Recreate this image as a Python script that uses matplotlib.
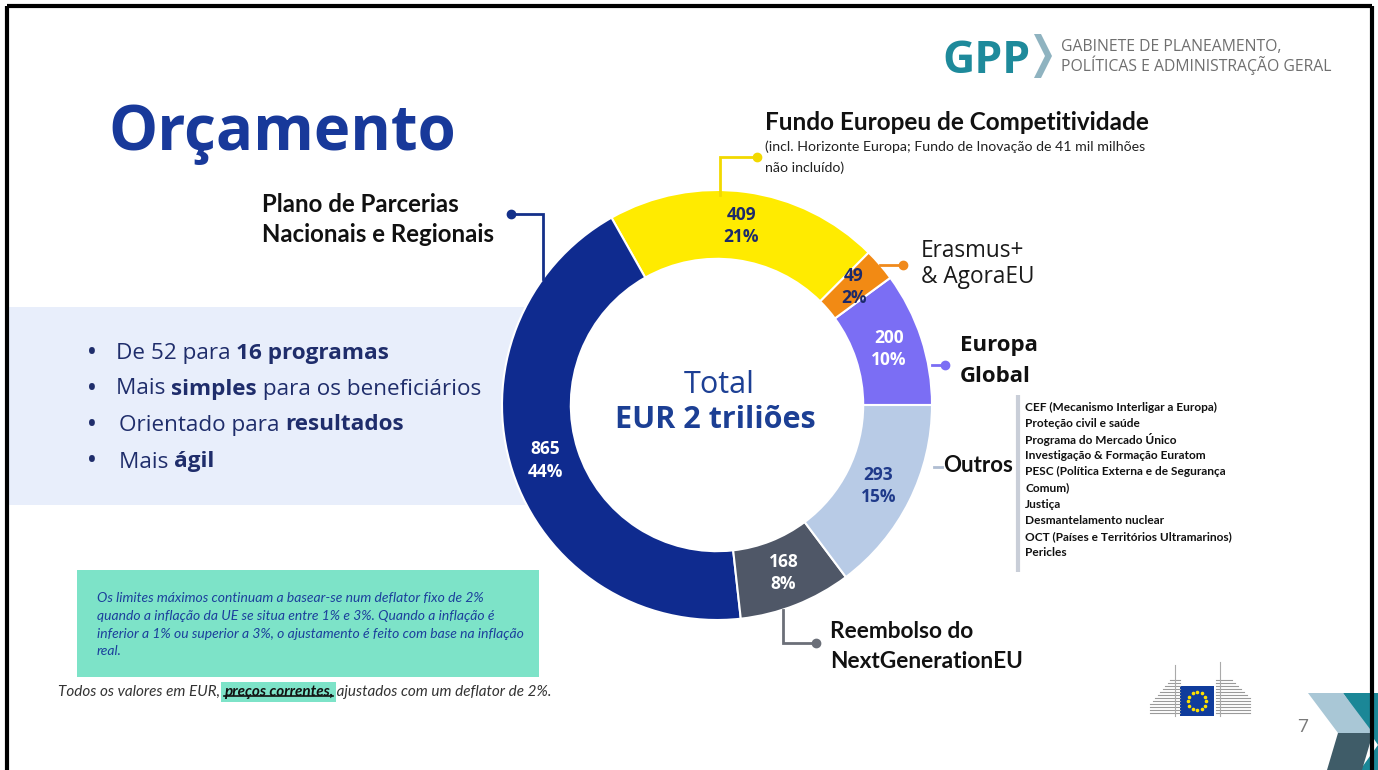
import matplotlib
matplotlib.use("Agg")
import matplotlib.pyplot as plt
from matplotlib.patches import Rectangle, Polygon
from matplotlib.lines import Line2D
from matplotlib.transforms import IdentityTransform
import numpy as np

W, H = 1378, 770

# ---------------- data ----------------
categories = ["Europa Global", "Erasmus+ & AgoraEU", "Fundo Europeu de Competitividade",
              "Plano de Parcerias Nacionais e Regionais", "Reembolso do NextGenerationEU", "Outros"]
values = [200, 49, 409, 865, 168, 293]
slice_colors = ["#7b6ef4", "#f28a14", "#ffeb00", "#0f2b8f", "#4f5767", "#b8cbe6"]
label_colors = ["white", "#1c2a6a", "#1c2a6a", "white", "white", "#1f3a8a"]

bullets = [
    [("De 52 para ", "normal"), ("16 programas", "bold")],
    [("Mais ", "normal"), ("simples", "bold"), (" para os beneficiários", "normal")],
    [("Orientado para ", "normal"), ("resultados", "bold")],
    [("Mais ", "normal"), ("ágil", "bold")],
]
outros_items = [
    "CEF (Mecanismo Interligar a Europa)",
    "Proteção civil e saúde",
    "Programa do Mercado Único",
    "Investigação & Formação Euratom",
    "PESC (Política Externa e de Segurança",
    "Comum)",
    "Justiça",
    "Desmantelamento nuclear",
    "OCT (Países e Territórios Ultramarinos)",
    "Pericles",
]
note_lines = [
    "Os limites máximos continuam a basear-se num deflator fixo de 2%",
    "quando a inflação da UE se situa entre 1% e 3%. Quando a inflação é",
    "inferior a 1% ou superior a 3%, o ajustamento é feito com base na inflação",
    "real.",
]
total = sum(values)

# ---------------- figure ----------------
fig = plt.figure(figsize=(W / 100, H / 100), dpi=100)
fig.patch.set_facecolor("white")

bg = fig.add_axes([0, 0, 1, 1])
bg.set_xlim(0, W)
bg.set_ylim(H, 0)
bg.axis("off")

SANS = "Lato"
ECF = "Open Sans"
NAVY_TXT = "#1f2d6b"

# left band (ends under the donut ring)
bg.add_patch(Rectangle((8, 307), 530, 198, facecolor="#e8eefb", edgecolor="none", zorder=0))

# title
bg.text(108, 150, "Orçamento", fontsize=44.5, fontweight="bold", color="#18399a",
        family=ECF, va="baseline", ha="left")

# GPP logo
bg.text(942, 73, "GPP", fontsize=32, fontweight="bold", color="#1e8a9b", family=ECF,
        va="baseline", ha="left")
bg.add_patch(Polygon([(1034, 34), (1041, 34), (1052, 56), (1041, 78), (1034, 78), (1045, 56)],
                     closed=True, facecolor="#8fb3c0", edgecolor="none"))
bg.text(1061, 51, "GABINETE DE PLANEAMENTO,", fontsize=11.3, color="#6f6f6f", family=ECF,
        va="baseline", ha="left")
bg.text(1061, 71, "POLÍTICAS E ADMINISTRAÇÃO GERAL", fontsize=11.3, color="#6f6f6f", family=ECF,
        va="baseline", ha="left")


def rich(ax, x, y, parts, size, color, family, style="normal"):
    t = ax.text(x, y, parts[0][0], fontsize=size, fontweight=parts[0][1], color=color,
                family=family, va="center", ha="left", style=style)
    for s, w in parts[1:]:
        t = ax.annotate(s, xy=(1, 0), xycoords=t, va="bottom", ha="left", fontsize=size,
                        fontweight=w, color=color, family=family, style=style)
    return t


# bullets
bullet_y = [353, 389, 425, 462]
bullet_x = [116, 116, 119, 119]
for parts, y, x in zip(bullets, bullet_y, bullet_x):
    bg.text(92, y, "•", fontsize=15, fontweight="bold", color=NAVY_TXT, family=ECF,
            va="center", ha="center")
    rich(bg, x, y, parts, 16.2, NAVY_TXT, ECF)

# category labels
BLK = "#111111"
bg.text(262, 204, "Plano de Parcerias", fontsize=17.3, fontweight="bold", color=BLK, family=SANS,
        va="center", ha="left")
bg.text(262, 235, "Nacionais e Regionais", fontsize=17.3, fontweight="bold", color=BLK, family=SANS,
        va="center", ha="left")
bg.text(765, 123, "Fundo Europeu de Competitividade", fontsize=17.5, fontweight="bold", color=BLK,
        family=SANS, va="center", ha="left")
bg.text(765, 147, "(incl. Horizonte Europa; Fundo de Inovação de 41 mil milhões", fontsize=10.2,
        color="#222222", family=SANS, va="center", ha="left")
bg.text(765, 168, "não incluído)", fontsize=10.2, color="#222222", family=SANS, va="center", ha="left")
bg.text(921, 251, "Erasmus+", fontsize=16.3, color="#1a1a1a", family=ECF, va="center", ha="left")
bg.text(921, 277, "& AgoraEU", fontsize=16.3, color="#1a1a1a", family=ECF, va="center", ha="left")
bg.text(960, 345, "Europa", fontsize=16, fontweight="bold", color=BLK, family=ECF, va="center", ha="left")
bg.text(960, 376, "Global", fontsize=16, fontweight="bold", color=BLK, family=ECF, va="center", ha="left")
bg.text(943, 466, "Outros", fontsize=16, fontweight="bold", color=BLK, family=SANS, va="center", ha="left")
bg.text(830, 631, "Reembolso do", fontsize=16.3, fontweight="bold", color=BLK, family=SANS,
        va="center", ha="left")
bg.text(830, 661, "NextGenerationEU", fontsize=16.3, fontweight="bold", color=BLK, family=SANS,
        va="center", ha="left")

# outros list
bg.plot([1018, 1018], [395, 572], color="#c9ced8", lw=3, solid_capstyle="butt")
for i, item in enumerate(outros_items):
    bg.text(1025, 407 + i * 16.2, item, fontsize=8.6, fontweight="bold", color="#111111", family=SANS,
            va="center", ha="left")

# note box
bg.add_patch(Rectangle((77, 570), 462, 107, facecolor="#7de3c8", edgecolor="none"))
for i, line in enumerate(note_lines):
    bg.text(97, 598 + i * 17.8, line, fontsize=10, style="italic", color="#1b3f9c", family=SANS,
            va="center", ha="left")

# footer
foot = [("Todos os valores em EUR, ", "normal"), ("preços correntes,", "bold"),
        (" ajustados com um deflator de 2%.", "normal")]
t0 = bg.text(58, 692, foot[0][0], fontsize=11, style="italic", color="#333333", family=SANS,
             va="center", ha="left")
t1 = bg.annotate(foot[1][0], xy=(1, 0), xycoords=t0, va="bottom", ha="left", fontsize=11,
                 style="italic", fontweight="bold", color="#111111", family=SANS,
                 bbox=dict(boxstyle="square,pad=0.2", facecolor="#7de3c8", edgecolor="none"))
t2 = bg.annotate(foot[2][0], xy=(1, 0), xycoords=t1, va="bottom", ha="left", fontsize=11,
                 style="italic", color="#333333", family=SANS)

# page number
bg.text(1303, 727, "7", fontsize=14, color="#7a7a7a", family=ECF, va="center", ha="center")

# EU logo
for k in range(12):
    yy = 680 + k * 3
    bg.plot([1150 + max(0, 8 - k) * 2.5, 1180], [yy, yy], color="#9a9a9a", lw=0.8)
    bg.plot([1216, 1250 - max(0, 6 - k) * 3], [yy, yy], color="#9a9a9a", lw=0.8)
bg.plot([1175, 1175], [665, 716], color="#aaaaaa", lw=0.8)
bg.plot([1220, 1220], [662, 716], color="#aaaaaa", lw=0.8)
bg.add_patch(Rectangle((1180, 686), 34, 30, facecolor="#103c9c", edgecolor="none"))
ang = np.linspace(0, 2 * np.pi, 13)[:-1]
bg.scatter(1197 + 9 * np.cos(ang), 701 + 9 * np.sin(ang), s=2.5, color="#ffe000", zorder=5)

# chevrons
bg.add_patch(Polygon([(1343, 693), (1378, 693), (1378, 770), (1360, 770), (1378, 745)],
                     closed=True, facecolor="#1b8797", edgecolor="none"))
bg.add_patch(Polygon([(1308, 693), (1343, 693), (1373, 733), (1338, 733)], closed=True,
                     facecolor="#a9c7d6", edgecolor="none"))
bg.add_patch(Polygon([(1338, 733), (1373, 733), (1362, 770), (1327, 770)], closed=True,
                     facecolor="#3f5c68", edgecolor="none"))

# ---------------- donut ----------------
cx, cy, R = 717, 405, 215
ax = fig.add_axes([(cx - R) / W, (H - cy - R) / H, 2 * R / W, 2 * R / H])
wedges, texts, autotexts = ax.pie(
    values, colors=slice_colors, startangle=0, counterclock=True, radius=1,
    wedgeprops=dict(width=0.32, edgecolor="white", linewidth=1.5),
    autopct=lambda p: f"{round(p * total / 100)}\n{p:.0f}%", pctdistance=0.84,
    textprops=dict(fontsize=12.5, fontweight="bold", family=ECF))
for t, c in zip(autotexts, label_colors):
    t.set_color(c)
    t.set_linespacing(1.3)
ax.set_xlim(-1, 1)
ax.set_ylim(-1, 1)
ax.axis("off")
ax.text(0.01, 0.095, "Total", fontsize=22, color="#1c3f94", family=ECF, ha="center", va="center")
ax.text(-0.01, -0.07, "EUR 2 triliões", fontsize=22, fontweight="bold", color="#1c3f94", family=ECF,
        ha="center", va="center")

# ---------------- overlay: callouts + border ----------------
ov = fig.add_axes([0, 0, 1, 1])
ov.set_xlim(0, W)
ov.set_ylim(H, 0)
ov.axis("off")
ov.patch.set_alpha(0)

callouts = [
    ([511, 543, 543], [214, 214, 279], "#14308a", (511, 214)),
    ([720, 720, 757], [195, 157, 157], "#f2d900", (757, 157)),
    ([880, 903], [265, 265], "#f08a1c", (903, 265)),
    ([932, 945], [365, 365], "#7b6ef4", (945, 365)),
    ([934, 942], [467, 467], "#b0bdd2", None),
    ([783, 783, 816], [610, 643, 643], "#6b6f78", (816, 643)),
]
for xs, ys, c, dot in callouts:
    ov.plot(xs, ys, color=c, lw=2, solid_joinstyle="miter")
    if dot is not None:
        ov.plot([dot[0]], [dot[1]], "o", color=c, ms=6)

# slide border
ov.plot([7, 7], [770, 6], color="black", lw=3, solid_capstyle="butt")
ov.plot([7, 1372], [6, 6], color="black", lw=3, solid_capstyle="butt")
ov.plot([1372, 1372], [6, 770], color="black", lw=3, solid_capstyle="butt")

# underline for "preços correntes,"
fig.canvas.draw()
bb = t1.get_window_extent()
fig.add_artist(Line2D([bb.x0, bb.x1], [bb.y0 + 3, bb.y0 + 3], color="#111111", lw=1.2,
                      transform=IdentityTransform()))

fig.savefig("out.png", dpi=100)
